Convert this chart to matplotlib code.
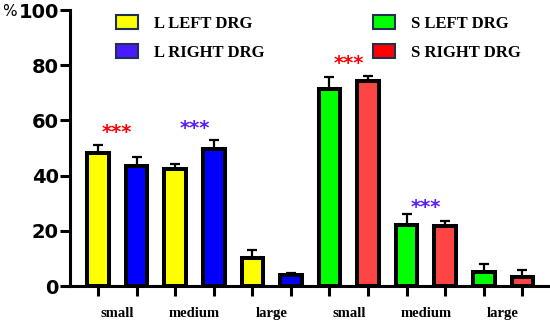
import numpy as np
import matplotlib.pyplot as plt
from matplotlib.patches import Patch

# bar values (%) and upper error, in order: L left/right then S left/right per size group
sizes = ['small', 'medium', 'large', 'small', 'medium', 'large']
values = [48.2, 43.5, 42.3, 49.6, 10.3, 3.9, 71.5, 74.3, 22.3, 21.6, 5.1, 3.3]
errors = [3.0, 3.2, 2.0, 3.3, 2.7, 0.7, 4.3, 1.8, 3.9, 2.0, 2.9, 2.4]
bar_colors = ['#FFFF00', '#0000FF'] * 3 + ['#00FF00', '#FF4444'] * 3
legend_labels = ['L LEFT DRG', 'L RIGHT DRG', 'S LEFT DRG', 'S RIGHT DRG']
legend_colors = ['#FFFF00', '#4B1BFF', '#00FF00', '#FF0000']
# significance marks: (pair index, height, colour)
stars = [(0, 55.5, '#FF0000'), (1, 57.2, '#5B1BFF'), (3, 80.8, '#FF0000'), (4, 28.6, '#5B1BFF')]

x = np.arange(len(values))

fig = plt.figure(figsize=(5.5, 3.24), dpi=100)
ax = fig.add_axes([0.127, 0.117, 0.869, 0.852])

ax.bar(x, values, width=0.56, color=bar_colors, edgecolor='black', linewidth=2.9, zorder=3)
ax.errorbar(x, values, yerr=[np.zeros(len(errors)), errors], fmt='none',
            ecolor='black', elinewidth=1.6, capsize=3.5, capthick=1.6, zorder=2)

for i, h, c in stars:
    ax.text(2 * i + 0.5, h, '***', color=c, fontsize=14, fontweight='bold',
            ha='center', va='center')

ax.set_xlim(-0.73, 11.66)
ax.set_ylim(0, 100)
ax.set_yticks([0, 20, 40, 60, 80, 100])
ax.set_yticklabels(['0', '20', '40', '60', '80', '100'], fontsize=14, fontweight='bold')
ax.set_xticks(x)
ax.set_xticklabels([''] * len(x))
ax.set_xticks(np.arange(len(sizes)) * 2 + 0.5, minor=True)
ax.set_xticklabels(sizes, minor=True, family='Liberation Serif', fontweight='bold', fontsize=10.5)
ax.tick_params(axis='x', which='minor', length=0, pad=15)
ax.tick_params(axis='both', which='major', width=2.2, length=7)
ax.tick_params(axis='y', pad=1)

for s in ['top', 'right']:
    ax.spines[s].set_visible(False)
for s in ['left', 'bottom']:
    ax.spines[s].set_linewidth(2.2)

fig.text(0.003, 0.965, '%', fontsize=11, va='center')

handles = [Patch(facecolor=c, edgecolor='#1F3050', linewidth=1.5) for c in legend_colors]
ax.legend(handles, legend_labels, ncol=2, frameon=False, loc='upper left',
          bbox_to_anchor=(0.065, 1.035), columnspacing=6.5, handlelength=1.32,
          handleheight=0.9, handletextpad=0.96, labelspacing=0.72,
          prop={'family': 'Liberation Serif', 'weight': 'bold', 'size': 12})

fig.savefig('out.png', dpi=100)
